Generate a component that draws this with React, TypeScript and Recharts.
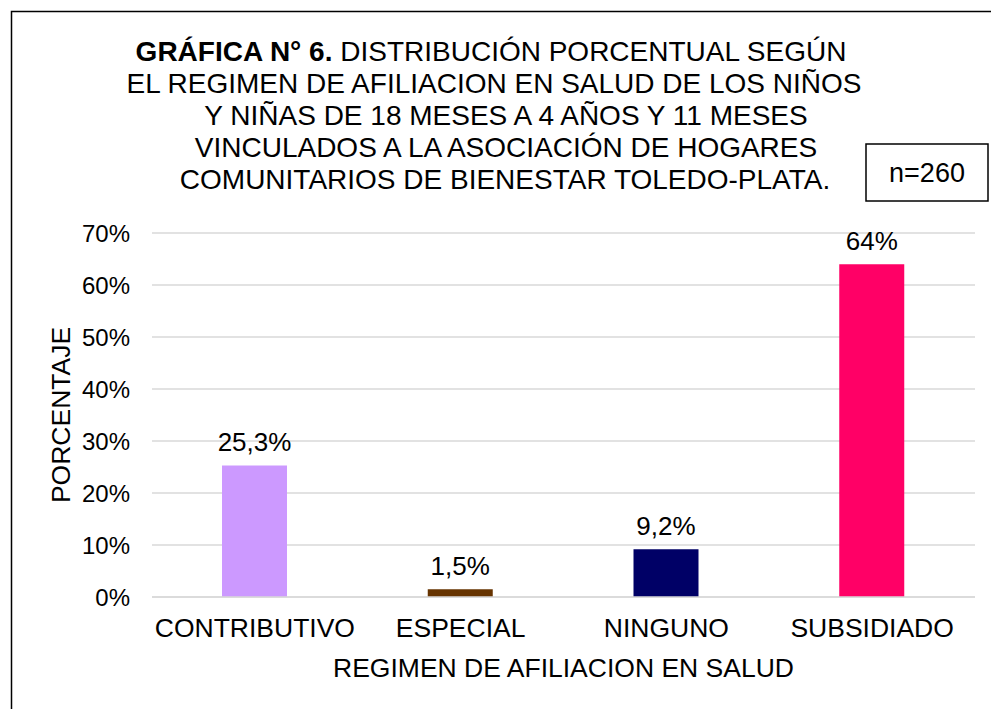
import { Bar, BarChart, CartesianGrid, Cell, LabelList, XAxis, YAxis } from "recharts";

const categories = ["CONTRIBUTIVO", "ESPECIAL", "NINGUNO", "SUBSIDIADO"];
const percentages = [25.3, 1.5, 9.2, 64];
const barColors = ["#CC99FF", "#663300", "#000066", "#FF0066"];
const yTicks = [0, 10, 20, 30, 40, 50, 60, 70];

const titleLines = [
  "EL REGIMEN DE AFILIACION EN SALUD DE LOS NIÑOS",
  "Y NIÑAS DE 18 MESES A 4 AÑOS Y 11 MESES",
  "VINCULADOS A LA ASOCIACIÓN DE HOGARES",
  "COMUNITARIOS DE BIENESTAR TOLEDO-PLATA.",
];
const titleCenters = [494, 506, 506, 505];

const FONT = "'Liberation Sans', Arial, sans-serif";

const data = categories.map((name, i) => ({ name, value: percentages[i] }));

export default function App() {
  return (
    <div style={{ position: "absolute", left: 0, top: 0, width: 991, height: 709, background: "#fff", fontFamily: FONT }}>
      <BarChart
        width={991}
        height={709}
        data={data}
        margin={{ top: 233, right: 16, bottom: 82, left: 0 }}
      >
        <CartesianGrid vertical={false} stroke="#D9D9D9" strokeWidth={1.5} />
        <XAxis
          dataKey="name"
          height={30}
          axisLine={{ stroke: "#D9D9D9", strokeWidth: 1.5 }}
          tickLine={false}
          tickMargin={15}
          tick={{ fill: "#000", fontSize: 26.5, fontFamily: FONT }}
          interval={0}
        />
        <YAxis
          width={152}
          domain={[0, 70]}
          ticks={yTicks}
          axisLine={false}
          tickLine={false}
          tickMargin={16}
          tick={{ fill: "#000", fontSize: 24, fontFamily: FONT }}
          tickFormatter={(v: number) => `${v}%`}
        />
        <Bar dataKey="value" barSize={65} isAnimationActive={false}>
          {data.map((d, i) => (
            <Cell key={d.name} fill={barColors[i]} />
          ))}
          <LabelList
            dataKey="value"
            position="top"
            offset={14}
            fill="#000"
            fontSize={26}
            fontFamily={FONT}
            formatter={(v: number) => `${String(v).replace(".", ",")}%`}
          />
        </Bar>
      </BarChart>
      <svg
        width={991}
        height={709}
        style={{ position: "absolute", left: 0, top: 0, pointerEvents: "none" }}
        fontFamily={FONT}
      >
        <rect x={11.5} y={11.5} width={2000} height={2000} fill="none" stroke="#000" strokeWidth={1.5} />
        <text x={491} y={61} textAnchor="middle" fontSize={28} fill="#000">
          <tspan fontWeight="bold">GRÁFICA N° 6.</tspan>
          <tspan> DISTRIBUCIÓN PORCENTUAL SEGÚN</tspan>
        </text>
        {titleLines.map((line, i) => (
          <text key={line} x={titleCenters[i]} y={93 + i * 32} textAnchor="middle" fontSize={28} fill="#000">
            {line}
          </text>
        ))}
        <rect x={866} y={144} width={122} height={57} fill="#fff" stroke="#000" strokeWidth={1.5} />
        <text x={927} y={182} textAnchor="middle" fontSize={27} fill="#000">n=260</text>
        <text x={70} y={415} transform="rotate(-90 70 415)" textAnchor="middle" fontSize={26.5} fill="#000">
          PORCENTAJE
        </text>
        <text x={563.5} y={677} textAnchor="middle" fontSize={26.5} fill="#000">
          REGIMEN DE AFILIACION EN SALUD
        </text>
      </svg>
    </div>
  );
}
